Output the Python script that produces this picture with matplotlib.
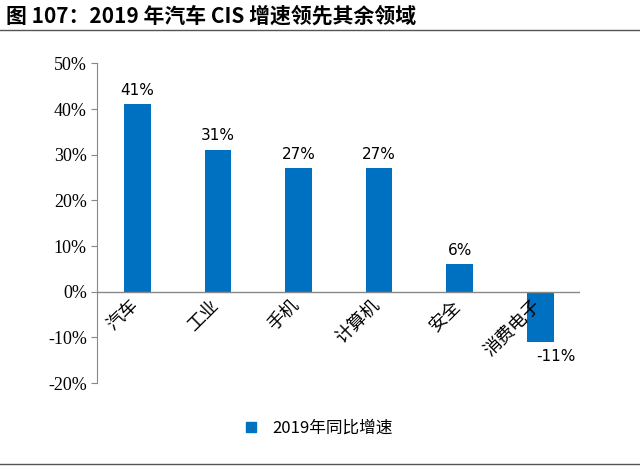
import matplotlib.pyplot as plt
from matplotlib.lines import Line2D

plt.rcParams['font.family'] = ['Noto Sans CJK SC', 'DejaVu Sans']

categories = ['汽车', '工业', '手机', '计算机', '安全', '消费电子']
values = [41, 31, 27, 27, 6, -11]
series_name = '2019年同比增速'
yticks = [-20, -10, 0, 10, 20, 30, 40, 50]

fig = plt.figure(figsize=(6.4, 4.69), dpi=100)
ax = fig.add_axes([0.152, 0.183, 0.755, 0.682])
color = '#0070C0'
x = range(len(categories))
bars = ax.bar(x, values, width=0.33, color=color, zorder=2)

ax.set_xlim(-0.5, len(categories) - 0.5)
ax.set_ylim(-20, 50)
ax.set_yticks(yticks)
ax.set_yticklabels([f'{v}%' for v in yticks], family='Liberation Serif', fontsize=13)
ax.set_xticks([])
for s in ['top', 'right', 'bottom']:
    ax.spines[s].set_visible(False)
ax.spines['left'].set_color('#888888')
ax.tick_params(axis='y', length=4, color='#888888')
ax.axhline(0, color='#888888', lw=1, zorder=3)

for i, v in enumerate(values):
    if v >= 0:
        ax.text(i, v + 1.5, f'{v}%', ha='center', va='bottom', fontsize=11, family='DejaVu Sans')
    else:
        ax.text(i + 0.2, v - 1.5, f'{v}%', ha='center', va='top', fontsize=11, family='DejaVu Sans')
    ax.text(i + 0.05, -1, categories[i], rotation=45, ha='right', va='top', fontsize=13)

handle = Line2D([], [], marker='s', color=color, ls='', markersize=7)
fig.legend([handle], [series_name], loc='center', bbox_to_anchor=(0.49, 0.087),
           frameon=False, fontsize=12, handletextpad=0.3)

fig.text(0.01, 0.965, '图 107：2019 年汽车 CIS 增速领先其余领域', fontsize=15,
         fontweight='bold', va='center')
fig.add_artist(Line2D([0, 1], [0.935, 0.935], color='#555555', lw=1))
fig.add_artist(Line2D([0, 1], [0.01, 0.01], color='#555555', lw=1))

fig.savefig('out.png', dpi=100)
